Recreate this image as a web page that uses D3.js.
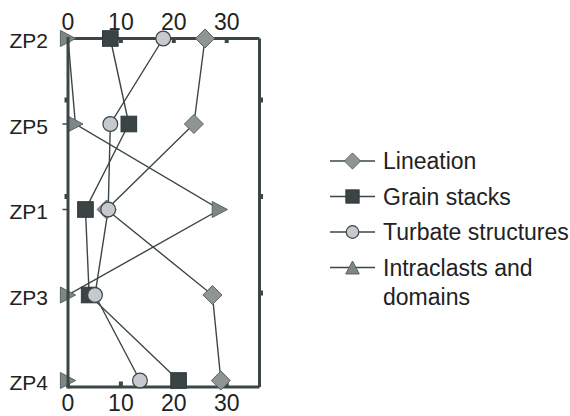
<!DOCTYPE html>
<html>
<head>
<meta charset="utf-8">
<script src="https://cdn.jsdelivr.net/npm/d3@7"></script>
<style>
  html, body { margin: 0; padding: 0; background: #fff; }
  svg { display: block; font-family: "Liberation Sans", Arial, sans-serif; }
</style>
</head>
<body>
<svg id="chart" width="570" height="416"></svg>
<script>
// ---- data ----
const categories = ["ZP2", "ZP5", "ZP1", "ZP3", "ZP4"];
const lineation   = [25.9, 23.8, 7.3, 27.3, 28.9];
const grainStacks = [8.0, 11.5, 3.3, 4.0, 20.9];
const turbate     = [18.0, 8.0, 7.6, 5.1, 13.6];
const intraclasts = [0, 1.4, 28.7, 0, 0];
const xTickValues = [0, 10, 20, 30];
const seriesNames = ["Lineation", "Grain stacks", "Turbate structures", "Intraclasts and domains"];

// ---- styles ----
const axisColor = "#3d4646";
const lineColor = "#3d4646";
const fills = { diamond: "#8f9595", square: "#3b4444", circle: "#c6c9cd", triangle: "#7e8686" };

const svg = d3.select("#chart");

const x = d3.scaleLinear().domain([0, 36.2]).range([68, 259.5]);
const y = d3.scalePoint().domain(categories).range([38.5, 380.5]);
const boxTop = 38.5, boxBottom = 387;
const sideScale = d3.scaleLinear().domain([0, 4]).range([3.5, 389.5]);

const series = [
  { name: seriesNames[0], values: lineation,   shape: "diamond" },
  { name: seriesNames[1], values: grainStacks, shape: "square" },
  { name: seriesNames[2], values: turbate,     shape: "circle" },
  { name: seriesNames[3], values: intraclasts, shape: "triangle" }
];

function drawMarker(g, shape, cx, cy, legend, rotateRight) {
  const s = legend ? 0.85 : 1;
  if (shape === "diamond") {
    const r = 9.5 * s;
    g.append("path").attr("d", `M${cx},${cy - r}L${cx + r},${cy}L${cx},${cy + r}L${cx - r},${cy}Z`)
      .attr("fill", fills.diamond).attr("stroke", "#5a6262").attr("stroke-width", 1);
  } else if (shape === "square") {
    const h = 7.8 * s;
    g.append("rect").attr("x", cx - h).attr("y", cy - h).attr("width", 2 * h).attr("height", 2 * h)
      .attr("fill", fills.square).attr("stroke", "#2f3838").attr("stroke-width", 1);
  } else if (shape === "circle") {
    g.append("circle").attr("cx", cx).attr("cy", cy).attr("r", 7.4 * s)
      .attr("fill", fills.circle).attr("stroke", "#3d4646").attr("stroke-width", 1.2);
  } else if (shape === "triangle") {
    const a = 7.6 * s, b = 8 * s;
    const d = rotateRight
      ? `M${cx - a},${cy - b}L${cx + a},${cy}L${cx - a},${cy + b}Z`
      : `M${cx - b},${cy + a}L${cx},${cy - a}L${cx + b},${cy + a}Z`;
    g.append("path").attr("d", d)
      .attr("fill", fills.triangle).attr("stroke", "#5a6262").attr("stroke-width", 1);
  }
}

// ---- frame (top/right/bottom) ----
const frame = svg.append("g");
frame.append("line").attr("x1", x.range()[0]).attr("x2", x.range()[1]).attr("y1", boxTop).attr("y2", boxTop)
  .attr("stroke", axisColor).attr("stroke-width", 3);
frame.append("line").attr("x1", x.range()[0]).attr("x2", x.range()[1]).attr("y1", boxBottom).attr("y2", boxBottom)
  .attr("stroke", axisColor).attr("stroke-width", 3);
frame.append("line").attr("x1", x.range()[1]).attr("x2", x.range()[1]).attr("y1", boxTop).attr("y2", boxBottom)
  .attr("stroke", axisColor).attr("stroke-width", 3);

// x ticks top (inward) and bottom (inward)
xTickValues.forEach(v => {
  frame.append("rect").attr("x", x(v) - 2).attr("y", boxTop - 1).attr("width", 4).attr("height", 5.5).attr("fill", axisColor);
  frame.append("rect").attr("x", x(v) - 2).attr("y", boxBottom - 5.5).attr("width", 4).attr("height", 5.5).attr("fill", axisColor);
});
// side ticks
[1, 2, 3].forEach(t => {
  frame.append("rect").attr("x", x.range()[0] - 3.5).attr("y", sideScale(t) - 2.5).attr("width", 4).attr("height", 5).attr("fill", axisColor);
  frame.append("rect").attr("x", x.range()[1] - 0.5).attr("y", sideScale(t) - 2.5).attr("width", 4).attr("height", 5).attr("fill", axisColor);
});
// category ticks on left
categories.forEach(c => {
  frame.append("line").attr("x1", x.range()[0] - 5.5).attr("x2", x.range()[0]).attr("y1", y(c)).attr("y2", y(c))
    .attr("stroke", axisColor).attr("stroke-width", 1.5);
});

// axis tick labels
const fontNum = 23;
svg.append("g").selectAll("text").data(xTickValues).join("text")
  .attr("x", d => x(d)).attr("y", 30).attr("text-anchor", "middle")
  .attr("font-size", fontNum).attr("fill", "#222").text(d => d);
svg.append("g").selectAll("text").data(xTickValues).join("text")
  .attr("x", d => x(d)).attr("y", 410.5).attr("text-anchor", "middle")
  .attr("font-size", fontNum).attr("fill", "#222").text(d => d);
svg.append("g").selectAll("text").data(categories).join("text")
  .attr("x", 48).attr("y", d => y(d) + 2 + 7.5).attr("text-anchor", "end")
  .attr("font-size", 21).attr("fill", "#222").text(d => d);

// ---- series lines ----
const lineGen = d3.line().x(d => x(d.v)).y(d => y(d.c));
const plot = svg.append("g");
series.forEach(s => {
  const pts = s.values.map((v, i) => ({ v, c: categories[i] }));
  plot.append("path").attr("d", lineGen(pts)).attr("fill", "none")
    .attr("stroke", lineColor).attr("stroke-width", 1.4);
});
// markers
series.forEach(s => {
  s.values.forEach((v, i) => drawMarker(plot, s.shape, x(v), y(categories[i]), false, true));
});

// left axis on top
svg.append("line").attr("x1", x.range()[0]).attr("x2", x.range()[0]).attr("y1", boxTop - 1.5).attr("y2", boxBottom + 1.5)
  .attr("stroke", axisColor).attr("stroke-width", 3);

// ---- legend ----
const legend = svg.append("g");
const legendY = [161, 196.5, 232, 267.5];
series.forEach((s, i) => {
  const ly = legendY[i];
  legend.append("line").attr("x1", 330).attr("x2", 375).attr("y1", ly).attr("y2", ly)
    .attr("stroke", lineColor).attr("stroke-width", 1.4);
  drawMarker(legend, s.shape, 352.5, ly, true, false);
  const t = legend.append("text").attr("x", 383).attr("y", ly + 8.2).attr("font-size", fontNum).attr("fill", "#222");
  if (i === 3) {
    t.append("tspan").attr("x", 383).text("Intraclasts and");
    t.append("tspan").attr("x", 383).attr("dy", 29).text("domains");
  } else {
    t.text(s.name);
  }
});
</script>
</body>
</html>
